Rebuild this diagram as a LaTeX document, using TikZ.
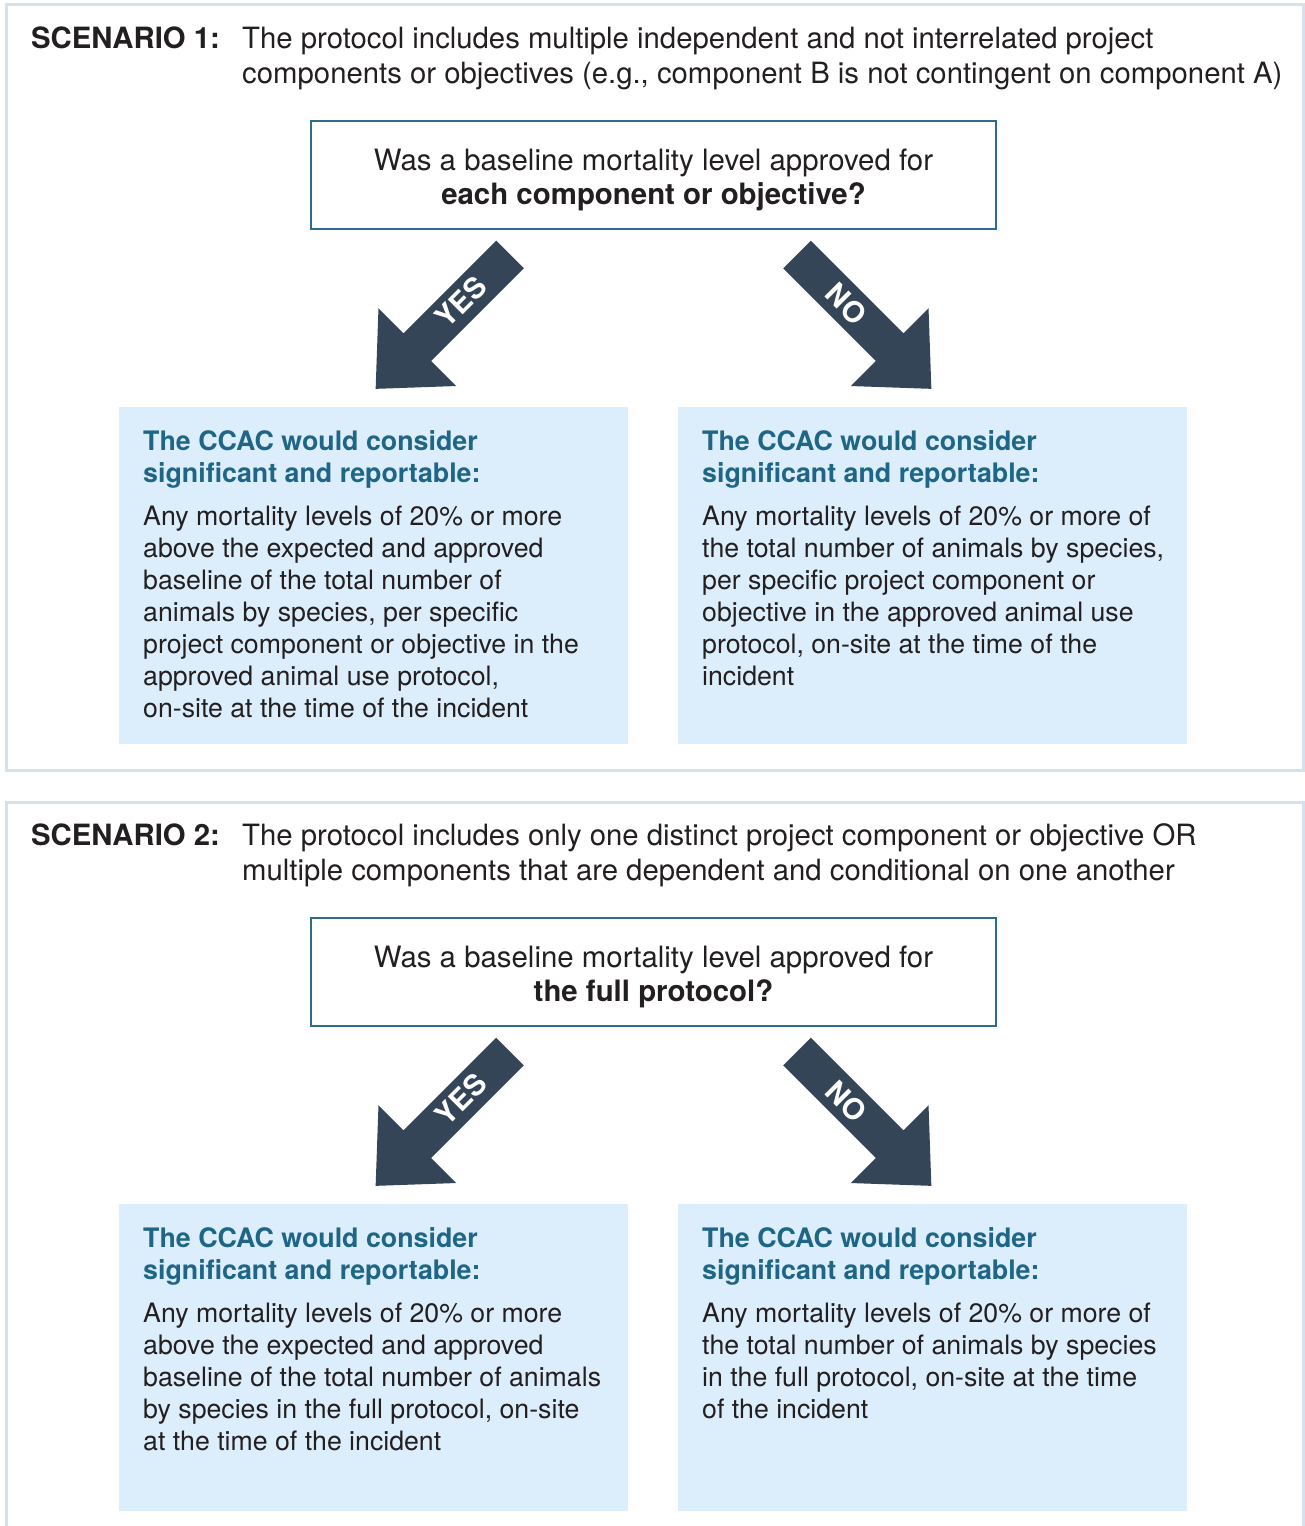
\documentclass[tikz,border=0pt]{standalone}
\usepackage{fontspec}
\setmainfont{TeX Gyre Heros}
\definecolor{framec}{HTML}{D6E1E9}
\definecolor{qborder}{HTML}{2C6C8C}
\definecolor{headc}{HTML}{1F6586}
\definecolor{boxfill}{HTML}{DCEDFC}
\definecolor{arrowc}{HTML}{344557}
\definecolor{textc}{HTML}{231F20}
\newcommand\stackl[1]{\begin{tabular}[t]{@{}l@{}}#1\end{tabular}}
\newcommand\stackc[1]{\begin{tabular}[t]{@{}c@{}}#1\end{tabular}}
\begin{document}
\begin{tikzpicture}[x=1pt,y=-1pt,
  frame/.style={draw=framec, line width=3pt},
  qbox/.style={draw=qborder, line width=2.5pt, fill=white, minimum width=685pt, minimum height=108pt, inner sep=0},
  bbox/.style={fill=boxfill, minimum width=509pt, inner sep=0, anchor=north west},
  scen/.style={inner sep=0, anchor=base west, text=textc, font=\fontsize{29.3}{35}\selectfont},
  qtext/.style={inner sep=0, anchor=base, text=textc, font=\fontsize{29.4}{34}\selectfont},
  head/.style={inner sep=0, anchor=base west, text=headc, font=\bfseries\fontsize{26.8}{32}\selectfont},
  body/.style={inner sep=0, anchor=base west, text=textc, font=\fontsize{26.7}{32}\selectfont},
  lab/.style={inner sep=0, text=white, font=\bfseries\fontsize{29}{30}\selectfont},
  bigarrow/.style={fill=arrowc}
]
\useasboundingbox (0,0) rectangle (1304,1526);
\fill[white] (0,0) rectangle (1304,1526);

% ---------- Scenario 1 ----------
\draw[frame] (6,4.5) rectangle (1303,770);
\node[scen, font=\bfseries\fontsize{29.3}{35}\selectfont] (s1) at (31,48) {SCENARIO 1:};
\node[scen] (s1t) at (242,48) {\stackl{The protocol includes multiple independent and not interrelated project\\components or objectives (e.g., component B is not contingent on component A)}};

\node[qbox] (q1) at (653.5,175) {};
\node[qtext] (q1t) at (653.5,170) {\stackc{Was a baseline mortality level approved for\\\textbf{each component or objective?}}};

\begin{scope}[shift={(510,254.5)}, rotate=225]
\fill[bigarrow] (0,19.5) -- (131,19.5) -- (131,55) -- (190,0) -- (131,-55) -- (131,-19.5) -- (0,-19.5) -- cycle;
\end{scope}
\begin{scope}[shift={(797,254.5)}, rotate=-45]
\fill[bigarrow] (0,19.5) -- (131,19.5) -- (131,55) -- (190,0) -- (131,-55) -- (131,-19.5) -- (0,-19.5) -- cycle;
\end{scope}
\node[lab, rotate=45] (yes1) at (461,302) {YES};
\node[lab, rotate=-45] (no1) at (846,304) {NO};

\node[bbox, minimum height=337pt] (b1l) at (119,407) {};
\node[bbox, minimum height=337pt] (b1r) at (678,407) {};
\node[head] (h1l) at (143,450) {\stackl{The CCAC would consider\\significant and reportable:}};
\node[head] (h1r) at (702,450) {\stackl{The CCAC would consider\\significant and reportable:}};
\node[body] (t1l) at (143,525) {\stackl{Any mortality levels of 20\% or more\\above the expected and approved\\baseline of the total number of\\animals by species, per specific\\project component or objective in the\\approved animal use protocol,\\on-site at the time of the incident}};
\node[body] (t1r) at (702,525) {\stackl{Any mortality levels of 20\% or more of\\the total number of animals by species,\\per specific project component or\\objective in the approved animal use\\protocol, on-site at the time of the\\incident}};

% ---------- Scenario 2 ----------
\draw[frame] (6,802.5) rectangle (1303,1560);
\node[scen, font=\bfseries\fontsize{29.3}{35}\selectfont] (s2) at (31,845) {SCENARIO 2:};
\node[scen] (s2t) at (242,845) {\stackl{The protocol includes only one distinct project component or objective OR\\multiple components that are dependent and conditional on one another}};

\node[qbox] (q2) at (653.5,972) {};
\node[qtext] (q2t) at (653.5,967) {\stackc{Was a baseline mortality level approved for\\\textbf{the full protocol?}}};

\begin{scope}[shift={(510,1051.5)}, rotate=225]
\fill[bigarrow] (0,19.5) -- (131,19.5) -- (131,55) -- (190,0) -- (131,-55) -- (131,-19.5) -- (0,-19.5) -- cycle;
\end{scope}
\begin{scope}[shift={(797,1051.5)}, rotate=-45]
\fill[bigarrow] (0,19.5) -- (131,19.5) -- (131,55) -- (190,0) -- (131,-55) -- (131,-19.5) -- (0,-19.5) -- cycle;
\end{scope}
\node[lab, rotate=45] (yes2) at (461,1099) {YES};
\node[lab, rotate=-45] (no2) at (846,1101) {NO};

\node[bbox, minimum height=307pt] (b2l) at (119,1204) {};
\node[bbox, minimum height=307pt] (b2r) at (678,1204) {};
\node[head] (h2l) at (143,1247) {\stackl{The CCAC would consider\\significant and reportable:}};
\node[head] (h2r) at (702,1247) {\stackl{The CCAC would consider\\significant and reportable:}};
\node[body] (t2l) at (143,1322) {\stackl{Any mortality levels of 20\% or more\\above the expected and approved\\baseline of the total number of animals\\by species in the full protocol, on-site\\at the time of the incident}};
\node[body] (t2r) at (702,1322) {\stackl{Any mortality levels of 20\% or more of\\the total number of animals by species\\in the full protocol, on-site at the time\\of the incident}};
\end{tikzpicture}
\end{document}
